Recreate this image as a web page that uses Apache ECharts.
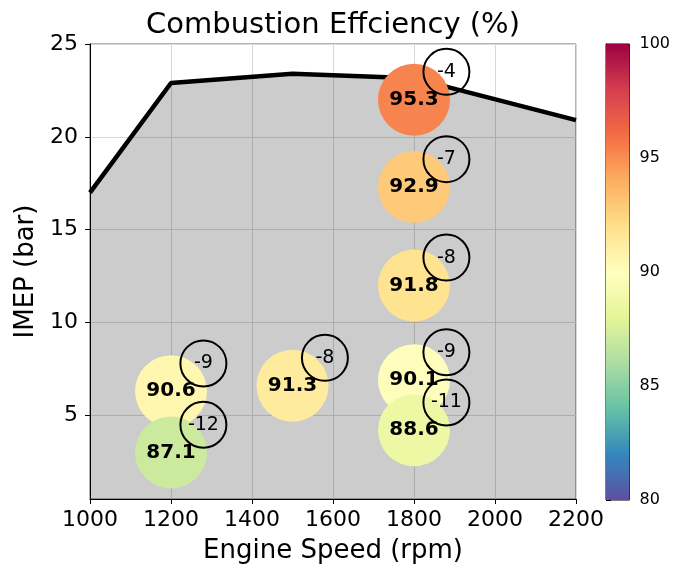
<!DOCTYPE html>
<html>
<head>
<meta charset="utf-8">
<script src="https://cdn.jsdelivr.net/npm/echarts@6/dist/echarts.min.js"></script>
<style>
  html, body { margin: 0; padding: 0; background: #fff; }
  #chart { width: 673px; height: 569px; }
</style>
</head>
<body>
<div id="chart"></div>
<script>
// Operating points: engine speed (rpm), IMEP (bar), combustion efficiency (%)
const speeds = [1200, 1200, 1500, 1800, 1800, 1800, 1800, 1800];
const imep = [6.3, 3.0, 6.6, 22.0, 17.3, 12.0, 6.9, 4.2];
const efficiency = [90.6, 87.1, 91.3, 95.3, 92.9, 91.8, 90.1, 88.6];
// Annotated change for each operating point
const deltas = [-9, -12, -8, -4, -7, -8, -9, -11];

// Full-load IMEP limit curve
const limitSpeed = [1000, 1200, 1500, 1800, 2200];
const limitImep = [17.0, 22.9, 23.4, 23.15, 20.9];

// Axis ticks
const xTicks = [1000, 1200, 1400, 1600, 1800, 2000, 2200];
const yTicks = [5, 10, 15, 20, 25];
const cbarTicks = [80, 85, 90, 95, 100];

// Spectral colour map, reversed (low = purple/blue, high = red)
const spectralR = ['#5e4fa2', '#3288bd', '#66c2a5', '#abdda4', '#e6f598', '#ffffbf',
                   '#fee08b', '#fdae61', '#f46d43', '#d53e4f', '#9e0142'];

const FONT = '"DejaVu Sans", sans-serif';
const ANNOT_DX = 80;   // rpm offset of the annotation ring
const ANNOT_DY = 1.5;  // bar offset of the annotation ring

const bubbleData = speeds.map((s, i) => [s, imep[i], efficiency[i]]);
const annotData = speeds.map((s, i) => [s + ANNOT_DX, imep[i] + ANNOT_DY, deltas[i]]);
const limitData = limitSpeed.map((s, i) => [s, limitImep[i]]);

const chart = echarts.init(document.getElementById('chart'), null, { renderer: 'canvas' });

chart.setOption({
  animation: false,
  backgroundColor: '#fff',
  textStyle: { fontFamily: FONT },
  title: {
    text: 'Combustion Effciency (%)',
    left: 328,
    textAlign: 'center',
    top: 6,
    textStyle: { fontFamily: FONT, fontSize: 29, fontWeight: 'normal', color: '#000' }
  },
  grid: [
    { left: 90, right: 97, top: 44, bottom: 69, show: true, borderColor: '#666', borderWidth: 1, backgroundColor: '#fff' },
    { left: 606, width: 24, top: 44, bottom: 69, show: true, borderColor: '#000', borderWidth: 1 }
  ],
  xAxis: [
    {
      gridIndex: 0, type: 'value', min: xTicks[0], max: xTicks[xTicks.length - 1], interval: 200,
      name: 'Engine Speed (rpm)', nameLocation: 'middle', nameGap: 39,
      nameTextStyle: { fontFamily: FONT, fontSize: 26, color: '#000' },
      axisLine: { show: true, onZero: false, lineStyle: { color: '#000', width: 1 } },
      axisTick: { show: true, inside: false, length: 5, lineStyle: { color: '#000' } },
      axisLabel: { fontFamily: FONT, fontSize: 22, color: '#000', margin: 10,
                   formatter: v => String(v) },
      splitLine: { show: true, lineStyle: { color: '#d8d8d8', width: 1 } }
    },
    { gridIndex: 1, type: 'value', min: 0, max: 1, show: false }
  ],
  yAxis: [
    {
      gridIndex: 0, type: 'value', min: 0.5, max: 25,
      name: 'IMEP (bar)', nameLocation: 'middle', nameGap: 46, nameRotate: 90,
      nameTextStyle: { fontFamily: FONT, fontSize: 26, color: '#000' },
      axisLine: { show: true, onZero: false, lineStyle: { color: '#000', width: 1 } },
      axisTick: { show: true, inside: false, length: 5, lineStyle: { color: '#000' }, customValues: yTicks },
      axisLabel: { fontFamily: FONT, fontSize: 22, color: '#000', margin: 12, customValues: yTicks },
      splitLine: { show: true, lineStyle: { color: '#d8d8d8', width: 1 } }
    },
    {
      gridIndex: 1, type: 'value', min: 80, max: 100, interval: 5, position: 'right',
      axisLine: { show: true, lineStyle: { color: '#000', width: 1 } },
      axisTick: { show: true, inside: false, length: 5, lineStyle: { color: '#000' } },
      axisLabel: { fontFamily: FONT, fontSize: 16, color: '#000', margin: 10,
                   formatter: v => cbarTicks.includes(v) ? String(v) : '' },
      splitLine: { show: false }
    }
  ],
  visualMap: {
    type: 'continuous', show: false, min: 80, max: 100, dimension: 2,
    seriesIndex: 1, inRange: { color: spectralR }
  },
  series: [
    {
      // IMEP limit curve with the shaded operating region below it
      type: 'line', xAxisIndex: 0, yAxisIndex: 0, data: limitData,
      symbol: 'none', z: 2,
      lineStyle: { color: '#000', width: 4.5 },
      areaStyle: { color: 'rgba(0,0,0,0.2)', opacity: 1, origin: 'start' }
    },
    {
      // Efficiency bubbles, coloured by value
      type: 'scatter', xAxisIndex: 0, yAxisIndex: 0, data: bubbleData,
      symbol: 'circle', symbolSize: 72, z: 3,
      itemStyle: { opacity: 1 },
      label: {
        show: true, position: 'inside', color: '#000',
        fontFamily: FONT, fontSize: 20, fontWeight: 'bold', textBorderWidth: 0,
        formatter: p => p.value[2].toFixed(1)
      },
      emphasis: { disabled: true }
    },
    {
      // Annotation rings with the change value
      type: 'scatter', xAxisIndex: 0, yAxisIndex: 0, data: annotData,
      symbol: 'circle', symbolSize: 46, z: 4,
      itemStyle: { color: 'rgba(0,0,0,0)', borderColor: '#000', borderWidth: 2, opacity: 1 },
      label: {
        show: true, position: 'inside', color: '#000',
        fontFamily: FONT, fontSize: 19, textBorderWidth: 0,
        formatter: p => String(p.value[2])
      },
      emphasis: { disabled: true }
    },
    {
      // Colour bar
      type: 'custom', xAxisIndex: 1, yAxisIndex: 1, data: [[0, 80]], z: 1,
      renderItem: (params, api) => {
        const p0 = api.coord([0, cbarTicks[0]]);
        const p1 = api.coord([1, cbarTicks[cbarTicks.length - 1]]);
        const stops = spectralR.map((c, i) => ({ offset: i / (spectralR.length - 1), color: c }));
        return {
          type: 'rect',
          shape: { x: p0[0], y: p1[1], width: p1[0] - p0[0], height: p0[1] - p1[1] },
          style: { fill: new echarts.graphic.LinearGradient(0, 1, 0, 0, stops) }
        };
      }
    }
  ]
});
</script>
</body>
</html>
